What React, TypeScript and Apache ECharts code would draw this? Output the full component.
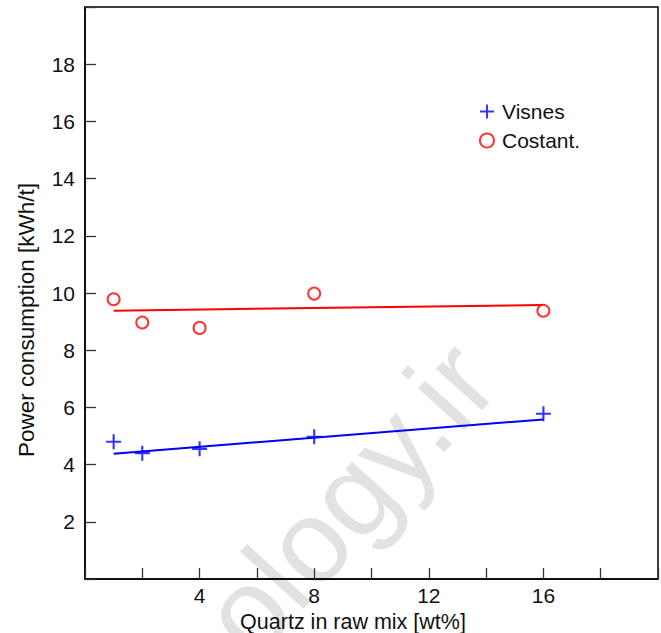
import React, { useEffect, useRef } from "react";
import * as echarts from "echarts";

const quartz = [1, 2, 4, 8, 16];
const visnes = [4.8, 4.4, 4.55, 4.97, 5.78];
const costant = [9.78, 8.97, 8.78, 9.98, 9.38];
const fitX = [1, 16];
const visnesFit = [4.38, 5.58];
const costantFit = [9.38, 9.58];
const xLabels = [4, 8, 12, 16];
const yLabels = [2, 4, 6, 8, 10, 12, 14, 16, 18];

const FONT = "'Liberation Sans', Arial, Helvetica, sans-serif";
const PLUS = "path://M4.3,0H5.7V4.3H10V5.7H5.7V10H4.3V5.7H0V4.3H4.3Z";

export default function App() {
  const ref = useRef<HTMLDivElement>(null);
  useEffect(() => {
    if (!ref.current) return;
    const chart = echarts.init(ref.current, undefined, { renderer: "svg" });
    const axisCommon = {
      type: "value" as const,
      min: 0,
      max: 20,
      interval: 2,
      splitLine: { show: false },
      axisLine: { show: true, lineStyle: { color: "#000", width: 1.5 } },
      axisTick: { show: true, inside: true, length: 11, lineStyle: { color: "#333", width: 1.3 } },
    };
    chart.setOption({
      animation: false,
      backgroundColor: "#fff",
      textStyle: { fontFamily: FONT },
      grid: {
        left: 85,
        right: 3,
        top: 7,
        bottom: 54,
        show: true,
        borderColor: "#000",
        borderWidth: 1.5,
        containLabel: false,
        outerBoundsMode: "none",
      },
      graphic: [
        {
          type: "text",
          z: -10,
          silent: true,
          x: 224,
          y: 636,
          rotation: (48 * Math.PI) / 180,
          style: {
            text: "ology.ir",
            fontFamily: FONT,
            fontSize: 118,
            fill: "#e2e2e2",
            align: "left",
            verticalAlign: "middle",
          },
        },
      ],
      legend: {
        orient: "vertical",
        left: 474,
        top: 96,
        itemWidth: 20,
        itemHeight: 14,
        itemGap: 8,
        data: ["Visnes", "Costant."],
        textStyle: { fontFamily: FONT, fontSize: 21, color: "#111", lineHeight: 21 },
      },
      xAxis: {
        ...axisCommon,
        name: "Quartz in raw mix [wt%]",
        nameLocation: "middle",
        nameGap: 20,
        nameTextStyle: { fontFamily: FONT, fontSize: 21.5, color: "#111", padding: [0, 37, 0, 0] },
        axisLabel: {
          margin: 6,
          fontFamily: FONT,
          fontSize: 21,
          color: "#111",
          formatter: (v: number) => (xLabels.includes(v) ? String(v) : ""),
        },
      },
      yAxis: {
        ...axisCommon,
        name: "Power consumption [kWh/t]",
        nameLocation: "middle",
        nameGap: 47,
        nameTextStyle: { fontFamily: FONT, fontSize: 22.5, color: "#111", padding: [0, 54, 0, 0] },
        axisLabel: {
          margin: 10,
          fontFamily: FONT,
          fontSize: 21,
          color: "#111",
          formatter: (v: number) => (yLabels.includes(v) ? String(v) : ""),
        },
      },
      series: [
        {
          name: "Visnes fit",
          type: "line",
          data: fitX.map((x, i) => [x, visnesFit[i]]),
          symbol: "none",
          lineStyle: { color: "#0000ff", width: 2 },
          z: 2,
        },
        {
          name: "Costant. fit",
          type: "line",
          data: fitX.map((x, i) => [x, costantFit[i]]),
          symbol: "none",
          lineStyle: { color: "#ff0000", width: 2 },
          z: 2,
        },
        {
          name: "Visnes",
          type: "scatter",
          data: quartz.map((x, i) => [x, visnes[i]]),
          symbol: PLUS,
          symbolSize: 15,
          symbolKeepAspect: true,
          itemStyle: { color: "#0000ff" },
          z: 3,
        },
        {
          name: "Costant.",
          type: "scatter",
          data: quartz.map((x, i) => [x, costant[i]]),
          symbol: "circle",
          symbolSize: 12,
          itemStyle: { color: "#fff", borderColor: "#ff0000", borderWidth: 2 },
          z: 3,
        },
      ],
    });
    return () => chart.dispose();
  }, []);
  return <div ref={ref} style={{ width: 661, height: 633, position: "absolute", left: 0, top: 0 }} />;
}
